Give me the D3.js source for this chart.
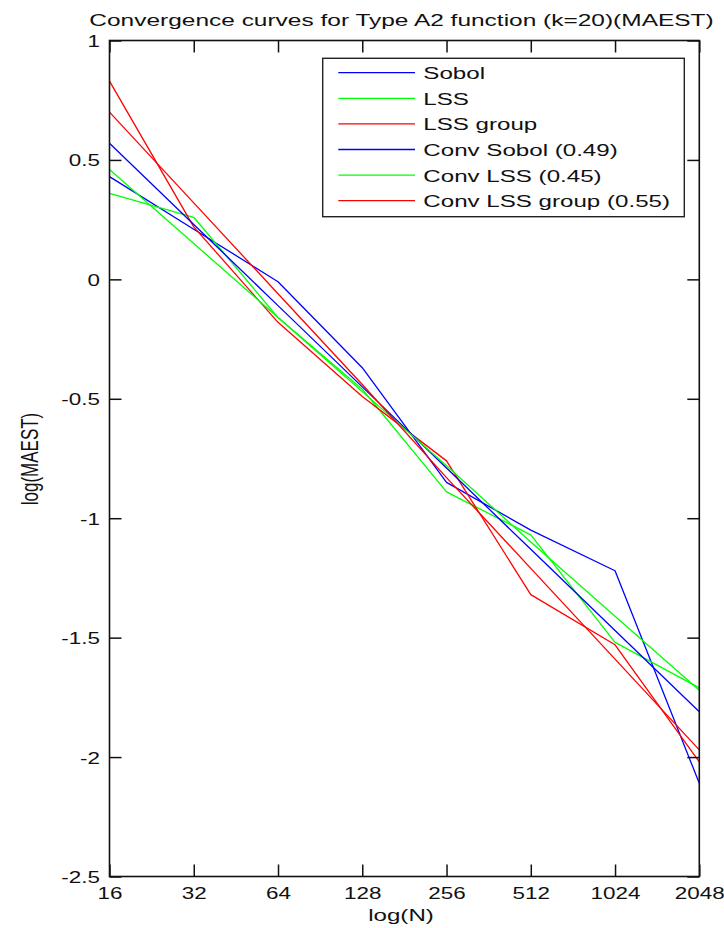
<!DOCTYPE html>
<html>
<head>
<meta charset="utf-8">
<script src="https://cdn.jsdelivr.net/npm/d3@7"></script>
<style>
  html, body { margin: 0; padding: 0; background: #fff; }
  svg { display: block; }
  text { font-family: "Liberation Sans", Arial, sans-serif; fill: #111; }
</style>
</head>
<body>
<svg id="chart" width="724" height="928"></svg>
<script>
// Sample sizes N (plotted on a log2 axis)
const sampleSizes = [16, 32, 64, 128, 256, 512, 1024, 2048];

// log(MAEST) estimates
const sobol      = [0.43, 0.21, -0.01, -0.37, -0.85, -1.05, -1.22, -2.11];
const lss        = [0.36, 0.26, -0.16, -0.46, -0.89, -1.07, -1.52, -1.71];
const lssGroup   = [0.83, 0.22, -0.18, -0.49, -0.76, -1.32, -1.53, -2.02];

// fitted convergence lines
const convSobol    = [0.57, 0.23, -0.11, -0.45, -0.79, -1.13, -1.47, -1.81];
const convLss      = [0.46, 0.15, -0.16, -0.47, -0.78, -1.10, -1.41, -1.72];
const convLssGroup = [0.70, 0.32, -0.06, -0.44, -0.83, -1.21, -1.59, -1.97];

const seriesNames  = ["Sobol", "LSS", "LSS group", "Conv Sobol (0.49)", "Conv LSS (0.45)", "Conv LSS group (0.55)"];
const seriesValues = [sobol, lss, lssGroup, convSobol, convLss, convLssGroup];
const seriesColors = ["#0000ff", "#00ff00", "#ff0000", "#0000ff", "#00ff00", "#ff0000"];

const yTicks = [1, 0.5, 0, -0.5, -1, -1.5, -2, -2.5];

const titleText = "Convergence curves for Type A2 function (k=20)(MAEST)";
const xLabel = "log(N)";
const yLabel = "log(MAEST)";

// layout
const plot = { left: 109.5, right: 699.3, top: 40.5, bottom: 876.5 };
const fontSize = 17;
const tickFontSize = 16.5;
const stretch = 1.42;      // wide lettering
const tickStretch = 1.36;
const tickLen = 12;

const svg = d3.select("#chart");

const x = d3.scaleLog().base(2).domain([16, 2048]).range([plot.left, plot.right]);
const y = d3.scaleLinear().domain([-2.5, 1]).range([plot.bottom, plot.top]);

// horizontally stretched text helper
function wideText(g, str, tx, ty, anchor, size = fontSize, sx = stretch) {
  return g.append("text")
    .attr("transform", `translate(${tx},${ty}) scale(${sx},1)`)
    .attr("text-anchor", anchor)
    .attr("font-size", size)
    .text(str);
}

// series lines
const line = d3.line()
  .x((d, i) => x(sampleSizes[i]))
  .y(d => y(d));

const lines = svg.append("g").attr("fill", "none");
seriesValues.forEach((vals, k) => {
  lines.append("path")
    .datum(vals)
    .attr("d", line)
    .attr("stroke", seriesColors[k])
    .attr("stroke-width", 1.3)
    .attr("stroke-linejoin", "round");
});

// axes with inward ticks on all four sides
function styleAxis(g) {
  g.select(".domain").remove();
  g.selectAll(".tick line").attr("stroke", "#111").attr("stroke-width", 1.5);
}

const xb = svg.append("g")
  .attr("transform", `translate(0,${plot.bottom})`)
  .call(d3.axisBottom(x).tickValues(sampleSizes).tickFormat(d3.format("d"))
        .tickSizeInner(-tickLen).tickSizeOuter(0).tickPadding(0));
styleAxis(xb);
xb.selectAll(".tick text").remove();
xb.selectAll(".tick").each(function (d) {
  wideText(d3.select(this), String(d), 0, 22, "middle", tickFontSize, tickStretch);
});

const xt = svg.append("g")
  .attr("transform", `translate(0,${plot.top})`)
  .call(d3.axisTop(x).tickValues(sampleSizes).tickFormat("")
        .tickSizeInner(-tickLen).tickSizeOuter(0));
styleAxis(xt);

const yl = svg.append("g")
  .attr("transform", `translate(${plot.left},0)`)
  .call(d3.axisLeft(y).tickValues(yTicks).tickFormat(d3.format("~g"))
        .tickSizeInner(-tickLen).tickSizeOuter(0));
styleAxis(yl);
yl.selectAll(".tick text").remove();
yl.selectAll(".tick").each(function (d) {
  wideText(d3.select(this), d3.format("~g")(d).replace("\u2212", "-"), -9.5, 6, "end", tickFontSize, tickStretch);
});

const yr = svg.append("g")
  .attr("transform", `translate(${plot.right},0)`)
  .call(d3.axisRight(y).tickValues(yTicks).tickFormat("")
        .tickSizeInner(-tickLen).tickSizeOuter(0));
styleAxis(yr);

// plot frame
svg.append("rect")
  .attr("x", plot.left).attr("y", plot.top)
  .attr("width", plot.right - plot.left).attr("height", plot.bottom - plot.top)
  .attr("fill", "none").attr("stroke", "#111").attr("stroke-width", 1.6);

// title and axis labels
wideText(svg, titleText, 401.5, 26, "middle", fontSize, 1.44);
wideText(svg, xLabel, 401, 921, "middle");
svg.append("text")
  .attr("transform", `translate(38,459) rotate(-90) scale(1,${stretch})`)
  .attr("text-anchor", "middle")
  .attr("font-size", fontSize)
  .text(yLabel);

// legend
const legend = { x: 322.7, y: 58.3, w: 361.6, h: 158.4, row0: 72.7, rowGap: 25.6 };
const lg = svg.append("g");
lg.append("rect")
  .attr("x", legend.x).attr("y", legend.y)
  .attr("width", legend.w).attr("height", legend.h)
  .attr("fill", "#fff").attr("stroke", "#222").attr("stroke-width", 1.4);
seriesNames.forEach((name, k) => {
  const ry = legend.row0 + k * legend.rowGap;
  lg.append("line")
    .attr("x1", 338.3).attr("x2", 415)
    .attr("y1", ry).attr("y2", ry)
    .attr("stroke", seriesColors[k]).attr("stroke-width", 1.3);
  wideText(lg, name, 423.3, ry + 6.5, "start");
});
</script>
</body>
</html>
